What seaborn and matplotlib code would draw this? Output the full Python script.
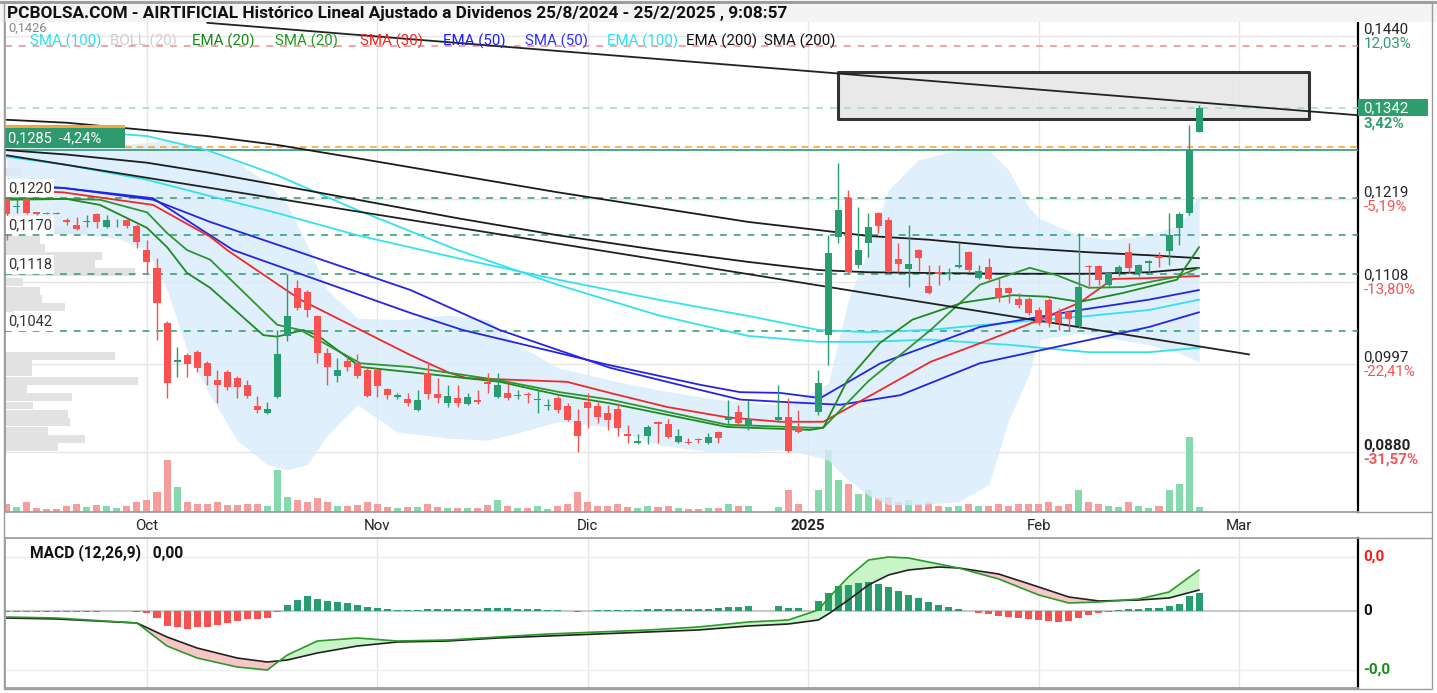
import numpy as np
import pandas as pd
import matplotlib
matplotlib.use("Agg")
import matplotlib.pyplot as plt
import matplotlib.transforms as mtrans
from matplotlib.patches import Rectangle
from matplotlib.lines import Line2D
import seaborn as sns

sns.set_theme(style="white")
plt.rcParams["font.family"] = ["Roboto", "DejaVu Sans"]

nan = float("nan")

# ------------------------------------------------------------------ data
sessions = pd.bdate_range("2024-09-11", "2025-02-25")   # 120 weekday slots

opens = [0.1219, 0.1208, 0.1219, 0.1201, 0.1200, 0.1200, 0.1191, 0.1184, 0.1188, 0.1199,
         0.1181, 0.1186, 0.1191, 0.1183, 0.1150, 0.1126, 0.1052, 0.0999, 0.1008, 0.1012,
         0.0997, 0.0975, 0.0985, 0.0977, 0.0968, 0.0939, 0.0930, 0.0952, 0.1034, 0.1099,
         0.1093, 0.1061, 0.1011, 0.0980, 0.1000, 0.0997, 0.0988, 0.0988, 0.0962, 0.0952,
         0.0949, 0.0934, 0.0984, 0.0956, 0.0943, 0.0950, 0.0942, 0.0948, 0.0972, 0.0952,
         0.0957, 0.0953, 0.0956, 0.0948, 0.0939, 0.0950, 0.0939, 0.0919, 0.0945, 0.0939,
         0.0930, 0.0935, 0.0901, 0.0889, 0.0899, 0.0918, 0.0915, 0.0891, 0.0891, 0.0895,
         0.0889, 0.0904, 0.0920, 0.0931, 0.0914, nan, nan, 0.0920, 0.0925, 0.0911,
         nan, 0.0931, 0.1035, 0.1168, 0.1220, 0.1130, 0.1160, 0.1200, 0.1191, 0.1138,
         0.1124, 0.1150, 0.1101, 0.1120, 0.1118, 0.1127, 0.1147, 0.1112, 0.1127, 0.1099,
         0.1099, 0.1084, 0.1084, 0.1069, 0.1083, 0.1065, 0.1066, 0.1047, 0.1128, 0.1128,
         0.1103, 0.1120, 0.1147, 0.1119, 0.1133, 0.1142, 0.1149, 0.1180, 0.1200, 0.1310]
highs = [0.1222, 0.1219, 0.1220, 0.1201, 0.1201, 0.1201, 0.1193, 0.1195, 0.1197, 0.1200,
         0.1197, 0.1192, 0.1192, 0.1185, 0.1164, 0.1139, 0.1054, 0.1019, 0.1011, 0.1015,
         0.1000, 0.0988, 0.0988, 0.0980, 0.0975, 0.0953, 0.0945, 0.1042, 0.1118, 0.1110,
         0.1096, 0.1062, 0.1018, 0.1004, 0.1007, 0.1010, 0.0991, 0.0989, 0.0964, 0.0957,
         0.0957, 0.0961, 0.0999, 0.0977, 0.0968, 0.0968, 0.0957, 0.0961, 0.0984, 0.0984,
         0.0970, 0.0961, 0.0958, 0.0961, 0.0949, 0.0953, 0.0943, 0.0935, 0.0957, 0.0945,
         0.0941, 0.0943, 0.0914, 0.0901, 0.0914, 0.0919, 0.0922, 0.0908, 0.0896, 0.0896,
         0.0903, 0.0905, 0.0948, 0.0941, 0.0948, nan, nan, 0.0968, 0.0950, 0.0934,
         nan, 0.0988, 0.1170, 0.1268, 0.1231, 0.1208, 0.1200, 0.1201, 0.1195, 0.1160,
         0.1184, 0.1152, 0.1130, 0.1130, 0.1126, 0.1160, 0.1149, 0.1130, 0.1139, 0.1112,
         0.1100, 0.1092, 0.1087, 0.1073, 0.1085, 0.1072, 0.1069, 0.1173, 0.1130, 0.1130,
         0.1120, 0.1130, 0.1160, 0.1131, 0.1137, 0.1147, 0.1200, 0.1201, 0.1319, 0.1346]
lows = [0.1164, 0.1200, 0.1199, 0.1197, 0.1199, 0.1199, 0.1184, 0.1177, 0.1181, 0.1180,
        0.1180, 0.1181, 0.1180, 0.1153, 0.1119, 0.1029, 0.0950, 0.0979, 0.0979, 0.0985,
        0.0968, 0.0943, 0.0961, 0.0950, 0.0950, 0.0930, 0.0929, 0.0950, 0.1027, 0.1069,
        0.1060, 0.0997, 0.0968, 0.0972, 0.0987, 0.0977, 0.0952, 0.0952, 0.0949, 0.0949,
        0.0939, 0.0933, 0.0949, 0.0943, 0.0938, 0.0938, 0.0941, 0.0942, 0.0957, 0.0950,
        0.0948, 0.0949, 0.0943, 0.0930, 0.0934, 0.0930, 0.0919, 0.0877, 0.0910, 0.0916,
        0.0907, 0.0899, 0.0889, 0.0888, 0.0888, 0.0889, 0.0896, 0.0889, 0.0888, 0.0889,
        0.0888, 0.0889, 0.0914, 0.0914, 0.0907, nan, nan, 0.0918, 0.0877, 0.0903,
        nan, 0.0927, 0.0995, 0.1160, 0.1119, 0.1126, 0.1141, 0.1173, 0.1120, 0.1120,
        0.1100, 0.1122, 0.1091, 0.1103, 0.1110, 0.1126, 0.1120, 0.1111, 0.1110, 0.1080,
        0.1079, 0.1072, 0.1062, 0.1049, 0.1046, 0.1042, 0.1042, 0.1045, 0.1099, 0.1103,
        0.1101, 0.1115, 0.1119, 0.1115, 0.1119, 0.1127, 0.1130, 0.1157, 0.1197, 0.1310]
closes = [0.1199, 0.1210, 0.1200, 0.1199, 0.1199, 0.1199, 0.1188, 0.1179, 0.1189, 0.1188,
          0.1191, 0.1187, 0.1183, 0.1161, 0.1134, 0.1079, 0.0970, 0.1002, 0.0996, 0.0991,
          0.0980, 0.0968, 0.0965, 0.0965, 0.0953, 0.0934, 0.0935, 0.1010, 0.1061, 0.1072,
          0.1069, 0.1011, 0.0992, 0.0988, 0.0992, 0.0980, 0.0953, 0.0966, 0.0954, 0.0954,
          0.0943, 0.0948, 0.0956, 0.0950, 0.0953, 0.0943, 0.0952, 0.0945, 0.0969, 0.0968,
          0.0950, 0.0954, 0.0954, 0.0949, 0.0941, 0.0934, 0.0920, 0.0899, 0.0937, 0.0925,
          0.0920, 0.0910, 0.0899, 0.0892, 0.0911, 0.0915, 0.0897, 0.0899, 0.0889, 0.0893,
          0.0897, 0.0896, 0.0923, 0.0916, 0.0922, nan, nan, 0.0925, 0.0878, 0.0904,
          nan, 0.0970, 0.1146, 0.1204, 0.1120, 0.1150, 0.1181, 0.1183, 0.1122, 0.1131,
          0.1131, 0.1139, 0.1092, 0.1118, 0.1120, 0.1130, 0.1123, 0.1122, 0.1111, 0.1085,
          0.1092, 0.1076, 0.1065, 0.1052, 0.1052, 0.1052, 0.1057, 0.1100, 0.1127, 0.1110,
          0.1119, 0.1127, 0.1126, 0.1130, 0.1135, 0.1139, 0.1170, 0.1199, 0.1285, 0.1342]
volumes = [800, 500, 1000, 400, 300, 300, 600, 800, 500, 700,
           600, 400, 600, 1000, 1200, 2000, 5200, 2500, 1000, 800,
           800, 1000, 700, 700, 800, 800, 600, 4200, 1500, 1200,
           1000, 1400, 1000, 600, 600, 700, 1000, 800, 500, 400,
           500, 500, 800, 500, 400, 400, 400, 400, 700, 1200,
           600, 400, 400, 600, 300, 600, 800, 2000, 1000, 600,
           600, 800, 500, 400, 600, 500, 600, 400, 300, 300,
           400, 400, 800, 600, 600, 0, 0, 500, 2200, 800,
           0, 2200, 6200, 3200, 2800, 1800, 2200, 1400, 1500, 1000,
           1200, 800, 1000, 600, 500, 600, 800, 600, 600, 800,
           600, 800, 800, 800, 1000, 600, 800, 2200, 1000, 800,
           600, 500, 1000, 600, 400, 600, 2200, 2800, 7500, 500]

# moving averages: (session index, price) pairs per line
ema20_idx = [0, 6, 9.3, 14, 16, 18, 20.3, 25.6, 27, 29.6, 31, 35.3, 40.3, 49.2, 55.2, 60.2,
             71.9, 80.2, 81.5, 83.9, 87.1, 90.4, 95.4, 100.4, 103.8, 107.1, 111.4, 116.8, 119]
ema20 = [0.1218, 0.1219, 0.1211, 0.1180, 0.1154, 0.1119, 0.1099, 0.1035, 0.1033, 0.1042,
         0.1035, 0.0992, 0.0985, 0.0972, 0.0954, 0.0943, 0.0911, 0.0907, 0.0910, 0.0974,
         0.1024, 0.1056, 0.1079, 0.1089, 0.1087, 0.1080, 0.1092, 0.1110, 0.1154]
sma20_idx = [0, 6, 9.3, 14, 16, 18, 20.3, 27, 29.3, 35.3, 40.3, 49.2, 55.2, 60.2, 71.9, 80.2,
             81.5, 86, 92.2, 97.1, 102.1, 104.8, 108, 111.4, 116.8, 119]
sma20 = [0.1220, 0.1219, 0.1218, 0.1201, 0.1173, 0.1150, 0.1137, 0.1049, 0.1042, 0.0997,
         0.0992, 0.0974, 0.0958, 0.0948, 0.0914, 0.0910, 0.0910, 0.0973, 0.1042, 0.1103,
         0.1126, 0.1116, 0.1099, 0.1100, 0.1114, 0.1126]
sma30_idx = [0, 5.6, 14.6, 20.3, 22, 29.3, 40.3, 44.2, 45.9, 55.9, 60.2, 65.9, 71.9, 77.2,
             81.5, 87.2, 92.2, 98.1, 102.4, 107.1, 110.4, 113.8, 119]
sma30 = [0.1231, 0.1228, 0.1211, 0.1168, 0.1150, 0.1083, 0.1008, 0.0984, 0.0977, 0.0972,
         0.0957, 0.0938, 0.0924, 0.0918, 0.0918, 0.0961, 0.0999, 0.1029, 0.1052, 0.1079,
         0.1111, 0.1112, 0.1115]
ema50_idx = [0, 5.6, 14.6, 20.3, 22.6, 40.3, 45.5, 60, 69.2, 73.2, 77.2, 81.2, 87.2, 97.1,
             107.1, 114, 119]
ema50 = [0.1237, 0.1234, 0.1220, 0.1170, 0.1150, 0.1065, 0.1042, 0.0995, 0.0968, 0.0958,
         0.0957, 0.0950, 0.0997, 0.1046, 0.1069, 0.1083, 0.1096]
sma50_idx = [0, 5.6, 14.6, 20.3, 28.6, 40.3, 49.2, 60.2, 69.2, 73.2, 77.2, 83.2, 89.2, 97.1,
             107.1, 114, 119]
sma50 = [0.1237, 0.1234, 0.1218, 0.1188, 0.1150, 0.1096, 0.1042, 0.0991, 0.0961, 0.0948,
         0.0945, 0.0941, 0.0954, 0.0997, 0.1026, 0.1046, 0.1066]
long_idx = [0, 6, 14, 20, 27, 35, 45, 55, 65, 74, 81, 86, 92, 100, 108, 114, 119]
sma100 = [0.1315, 0.1312, 0.1304, 0.1285, 0.1251, 0.1204, 0.1150, 0.1103, 0.1062, 0.1034,
          0.1026, 0.1026, 0.1029, 0.1022, 0.1012, 0.1012, 0.1018]
ema100 = [0.1276, 0.1265, 0.1245, 0.1224, 0.1200, 0.1170, 0.1139, 0.1110, 0.1083, 0.1061,
          0.1042, 0.1039, 0.1042, 0.1052, 0.1061, 0.1069, 0.1083]
sma200 = [0.1326, 0.1322, 0.1312, 0.1304, 0.1292, 0.1274, 0.1251, 0.1228, 0.1207, 0.1188,
          0.1177, 0.1169, 0.1164, 0.1154, 0.1147, 0.1143, 0.1139]
ema200 = [0.1285, 0.1279, 0.1268, 0.1255, 0.1238, 0.1218, 0.1193, 0.1170, 0.1150, 0.1134,
          0.1123, 0.1120, 0.1119, 0.1118, 0.1118, 0.1120, 0.1126]

# Bollinger (20)
bb_idx = [0, 6, 11, 14, 16, 18, 20, 23, 26, 28, 30, 32, 35, 39, 44, 48, 51, 55, 60,
          65, 71, 77, 79, 82, 84, 86, 88, 91, 95, 98, 100, 102, 103, 107, 110, 114, 117, 119]
bb_upper = [0.1299, 0.1292, 0.1292, 0.1295, 0.1299, 0.1292, 0.1285, 0.1269, 0.1241, 0.1211,
            0.1157, 0.1096, 0.1058, 0.1056, 0.1062, 0.1056, 0.1022, 0.0991, 0.0975, 0.0961,
            0.0948, 0.0941, 0.0948, 0.0970, 0.1083, 0.1150, 0.1231, 0.1272, 0.1285, 0.1285,
            0.1258, 0.1208, 0.1193, 0.1170, 0.1164, 0.1170, 0.1184, 0.1224]
bb_lower = [0.1177, 0.1174, 0.1166, 0.1150, 0.1096, 0.1015, 0.0961, 0.0893, 0.0860, 0.0853,
            0.0860, 0.0900, 0.0941, 0.0904, 0.0896, 0.0893, 0.0903, 0.0918, 0.0911, 0.0887,
            0.0876, 0.0880, 0.0877, 0.0866, 0.0839, 0.0819, 0.0806, 0.0806, 0.0810, 0.0833,
            0.0920, 0.0981, 0.1029, 0.1038, 0.1031, 0.1022, 0.1011, 0.0999]

# drawn trend lines and box
trend1_x, trend1_y = [20, 135], [0.1457, 0.1332]
trend2_x, trend2_y = [0, 124], [0.1278, 0.1009]
box_x, box_y = [83, 130], [0.1327, 0.1391]

# horizontal levels
level_prices = [0.1220, 0.1170, 0.1117, 0.1040]
level_labels = ["0,1220", "0,1170", "0,1118", "0,1042"]
resist_price, resist_label = 0.1426, "0,1426"
last_price, last_label, last_pct = 0.1342, "0,1342", "3,42%"
prev_price, prev_label = 0.1285, "0,1285  -4,24%"
orange_price = 0.1289

grid_prices = [0.1439, 0.1219, 0.1107, 0.0996, 0.0877]
grid_labels = ["0,1440", "0,1219", "0,1108", "0,0997", "0,0880"]
grid_pcts = ["12,03%", "-5,19%", "-13,80%", "-22,41%", "-31,57%"]

# volume profile
vp_price = [0.1255, 0.1177, 0.1164, 0.1153, 0.1142, 0.1131, 0.1120, 0.1107, 0.1095, 0.1084,
            0.1073, 0.1062, 0.1007, 0.0996, 0.0985, 0.0973, 0.0962, 0.0951, 0.0940, 0.0929,
            0.0918, 0.0906, 0.0895, 0.0884]
vp_volume = [170, 820, 350, 400, 970, 900, 1300, 180, 350, 370, 600, 80, 1100, 270, 270,
             1330, 220, 670, 280, 630, 650, 430, 800, 530]

# MACD (12,26,9), values in 1e-5
macd_idx = [0, 5, 13, 16, 19, 23, 26, 28, 31, 35, 39, 44, 49, 54, 59, 64, 69, 74, 78,
            81, 82, 84, 86, 88, 90, 93, 95, 99, 103, 106, 109, 113, 116, 119]
macd_e5 = [-42, -49, -84, -245, -329, -392, -413, -308, -210, -189, -210, -203, -182, -161,
           -147, -133, -112, -77, -63, 7, 91, 238, 357, 378, 371, 329, 301, 224, 112, 56,
           63, 84, 133, 287]
signal_e5 = [-49, -56, -84, -182, -259, -329, -357, -343, -294, -245, -217, -210, -189, -175,
             -161, -147, -133, -105, -91, -63, -21, 77, 182, 252, 287, 308, 301, 259, 168, 98,
             70, 77, 91, 147]
hist_e5 = [-7, -7, -7, -7, -7, -7, -7, -7, -7, -7,
           0, 0, 0, -7, -14, -49, -105, -112, -126, -112,
           -112, -98, -84, -70, -56, -56, -49, -7, 42, 77,
           105, 84, 70, 63, 56, 42, 28, 21, 14, 7,
           7, 7, 14, 14, 14, 14, 14, 14, 21, 21,
           21, 14, 14, 14, 7, 7, 0, -7, 0, 7,
           7, 7, 7, 7, 14, 14, 14, 14, 14, 14,
           14, 21, 28, 28, 35, nan, nan, 35, 21, 21,
           nan, 70, 126, 175, 182, 196, 203, 189, 168, 140,
           112, 91, 63, 42, 28, 14, 0, -14, -21, -35,
           -42, -49, -56, -63, -70, -77, -70, -49, -28, -14,
           -7, 7, 14, 14, 21, 21, 35, 49, 105, 126]

month_labels = ["Oct", "Nov", "Dic", "2025", "Feb", "Mar"]

# ------------------------------------------------------------------ layout
W, H = 1437, 693
fig = plt.figure(figsize=(W / 100, H / 100), dpi=100)
fig.patch.set_facecolor("white")


def fx(px):
    return px / W


def fy(py):
    return 1 - py / H


L, R = 5, 1358
ax = fig.add_axes([fx(L), fy(512), fx(R) - fx(L), fy(22) - fy(512)])
axm = fig.add_axes([fx(L), fy(688), fx(R) - fx(L), fy(538) - fy(688)], sharex=ax)
ax_vol = ax.twinx()
ax_vp = ax.twiny()
ax.set_zorder(3)
ax.patch.set_visible(False)
ax_vol.set_zorder(2)
ax_vol.patch.set_visible(False)
ax_vp.set_zorder(1)

x = np.arange(len(sessions))
o, h, l, c = map(np.array, (opens, highs, lows, closes))
valid = ~np.isnan(o)
up = valid & (c >= o)
dn = valid & (c < o)
UP, DN = "#2a9d70", "#fa5050"

all_days = pd.bdate_range("2024-09-11", "2025-03-31")
month_pos = []
for per in ["2024-10", "2024-11", "2024-12", "2025-01", "2025-02", "2025-03"]:
    month_pos.append(int(np.argmax(all_days.strftime("%Y-%m") == per)))

XMIN, XMAX = -0.17, 134.86
YMIN, YMAX = 0.07961, 0.14581

# background grid
for gp in grid_prices:
    ax_vp.axhline(gp, color="#e6e6e6", lw=1, zorder=0)
for mp in month_pos:
    ax_vol.axvline(mp, color="#e6e6e6", lw=1, zorder=0)
    axm.axvline(mp, color="#e6e6e6", lw=1, zorder=0)

# volume profile
ax_vp.barh(vp_price, vp_volume, height=0.00105, left=0, color="#e2e2e2", linewidth=0, zorder=1)
ax_vp.set_xlim(0, 13530)

# volume
vol = np.array(volumes, dtype=float)
vcol = np.where(c >= o, "#86d9ad", "#f59c9c")
ax_vol.bar(x[valid], vol[valid], width=0.7, color=vcol[valid], linewidth=0, zorder=2)
ax_vol.set_ylim(0, 49000)

# Bollinger
ax.fill_between(bb_idx, bb_lower, bb_upper, color="#d8ebfa", alpha=0.8, linewidth=0, zorder=1)

# horizontal levels
trans_ad = mtrans.blended_transform_factory(ax.transAxes, ax.transData)
for lv, lab in zip(level_prices, level_labels):
    ax.axhline(lv, color="#2e9a6e", lw=1.1, ls=(0, (4.5, 4.5)), zorder=3.5)
    ax.annotate(lab, xy=(0, lv), xycoords=trans_ad, xytext=(2.3, 7.2), textcoords="offset points",
                ha="left", va="center", fontsize=10.5, color="#333333",
                bbox=dict(boxstyle="square,pad=0.15", fc="white", ec="none"),
                zorder=8, annotation_clip=False)
ax.axhline(resist_price, color="#f08a8a", lw=1.1, ls=(0, (4.5, 4.5)), zorder=3.5)
ax.annotate(resist_label, xy=(0, resist_price), xycoords=trans_ad, xytext=(2.3, 12.5),
            textcoords="offset points", ha="left", va="center", fontsize=9.2, color="#888888",
            zorder=8, annotation_clip=False)
ax.axhline(last_price, color="#a6d8c1", lw=1.1, ls=(0, (4.5, 4.5)), zorder=3.5)
ax.axhline(orange_price, xmin=120 / 1353, color="#f5a53c", lw=1.2, ls=(0, (4, 3)), zorder=3.5)
ax.axhline(prev_price, color="#2e9a6e", lw=1.2, zorder=3.5)

# gray box annotation
ax.add_patch(Rectangle((box_x[0], box_y[0]), box_x[1] - box_x[0], box_y[1] - box_y[0],
                       fc="#e6e6e6", ec="#111111", lw=2.2, alpha=0.85, zorder=2.5,
                       joinstyle="round"))

# moving averages
ma_specs = [(long_idx, sma100, "#33e2ee"), (long_idx, ema100, "#33e2ee"),
            (long_idx, sma200, "#1c1c1c"), (long_idx, ema200, "#1c1c1c"),
            (sma50_idx, sma50, "#2424e6"), (ema50_idx, ema50, "#2424e6"),
            (sma30_idx, sma30, "#ee2a2a"), (sma20_idx, sma20, "#2e962e"),
            (ema20_idx, ema20, "#1f8a1f")]
for xi, vals, col in ma_specs:
    sns.lineplot(x=xi, y=vals, ax=ax, color=col, linewidth=1.3, estimator=None,
                 sort=False, legend=False, zorder=4)

# trend lines
for tx, ty in ((trend1_x, trend1_y), (trend2_x, trend2_y)):
    sns.lineplot(x=tx, y=ty, ax=ax, color="#222222", linewidth=1.3, estimator=None,
                 sort=False, legend=False, zorder=4.5)

# candles
for mask, col in ((up, UP), (dn, DN)):
    ax.vlines(x[mask], l[mask], h[mask], color=col, linewidth=1.0, zorder=5)
    lo_body = np.minimum(o[mask], c[mask])
    hgt = np.maximum(np.abs(c[mask] - o[mask]), 0.00012)
    ax.bar(x[mask], hgt, bottom=lo_body, width=0.7, color=col, linewidth=0, zorder=6)

# previous close box on the left
ax.add_patch(Rectangle((0, prev_price + 0.00029), 120 / 1353, 0.0027, transform=trans_ad,
                       fc="#2e9a6e", ec="none", zorder=9, clip_on=False))
ax.add_patch(Rectangle((0, prev_price + 0.00299), 120 / 1353, 0.00035, transform=trans_ad,
                       fc="#f5a53c", ec="none", zorder=9, clip_on=False))
ax.text(3 / 1353, prev_price + 0.00162, prev_label, transform=trans_ad, ha="left", va="center",
        fontsize=10.5, color="white", zorder=10)

# right price labels
for gp, lab, pct in zip(grid_prices, grid_labels, grid_pcts):
    bold = "bold" if lab == "0,0880" else "normal"
    pc = "#2e9e6e" if not pct.startswith("-") else "#f25555"
    ax.text(1.004, gp, lab, transform=trans_ad, ha="left", va="bottom", fontsize=10.8,
            color="#222222", fontweight=bold, clip_on=False, zorder=10)
    ax.text(1.004, gp, pct, transform=trans_ad, ha="left", va="top", fontsize=10.8,
            color=pc, fontweight=bold, clip_on=False, zorder=10)
ax.add_patch(Rectangle((1.0, last_price - 0.00115), 0.052, 0.0023, transform=trans_ad,
                       fc="#2e9e6e", ec="none", clip_on=False, zorder=9))
ax.text(1.004, last_price, last_label, transform=trans_ad, ha="left", va="center",
        fontsize=10.8, color="white", clip_on=False, zorder=10)
ax.text(1.004, last_price - 0.00118, last_pct, transform=trans_ad, ha="left", va="top",
        fontsize=10.8, color="#2e9e6e", fontweight="bold", clip_on=False, zorder=10)

# axes cosmetics
ax.set_xlim(XMIN, XMAX)
ax.set_ylim(YMIN, YMAX)
ax.set_autoscale_on(False)
ax.set_xticks(month_pos)
ax.set_xticklabels(month_labels, fontsize=10.8, color="#222222")
ax.get_xticklabels()[3].set_fontweight("bold")
ax.tick_params(axis="x", length=0, pad=5)
ax.set_yticks([])
ax.set_xlabel("")
ax.set_ylabel("")
ax_vp.set_xticks([])
ax_vol.set_yticks([])
for a in (ax_vol, ax_vp):
    for s in a.spines.values():
        s.set_visible(False)
ax_vp.tick_params(top=False, labeltop=False)
ax_vol.tick_params(right=False, labelright=False)
ax_vol.set_ylabel("")
ax.spines["top"].set_visible(False)
ax.spines["left"].set_color("#9a9a9a")
ax.spines["bottom"].set_color("#9a9a9a")
ax.spines["right"].set_color("black")
ax.spines["right"].set_linewidth(1.6)

# MACD panel
mx = np.array(macd_idx)
macd_v = np.array(macd_e5) * 1e-5
sig_v = np.array(signal_e5) * 1e-5
hist_v = np.array(hist_e5, dtype=float) * 1e-5
axm.axhline(0, color="#bdbdbd", lw=1.2, zorder=0.5)
axm.axhline(0.0038, color="#ececec", lw=1, zorder=0.5)
axm.axhline(-0.0041, color="#ececec", lw=1, zorder=0.5)
pos = ~np.isnan(hist_v) & (hist_v >= 0)
neg = ~np.isnan(hist_v) & (hist_v < 0)
axm.bar(x[pos], hist_v[pos], width=0.7, color="#2a9d70", linewidth=0, zorder=2)
axm.bar(x[neg], hist_v[neg], width=0.7, color="#fa5050", linewidth=0, zorder=2)
axm.fill_between(mx, macd_v, sig_v, where=macd_v >= sig_v, interpolate=True,
                 color="#c8f4c8", linewidth=0, zorder=1.5)
axm.fill_between(mx, macd_v, sig_v, where=macd_v < sig_v, interpolate=True,
                 color="#f8c6c6", linewidth=0, zorder=1.5)
sns.lineplot(x=mx, y=sig_v, ax=axm, color="#222222", linewidth=1.2, estimator=None,
             sort=False, legend=False, zorder=3)
sns.lineplot(x=mx, y=macd_v, ax=axm, color="#2a9a2a", linewidth=1.2, estimator=None,
             sort=False, legend=False, zorder=3)
axm.set_ylim(-0.00539, 0.00511)
axm.set_xlim(XMIN, XMAX)
axm.set_yticks([])
axm.set_xlabel("")
axm.set_ylabel("")
axm.tick_params(axis="x", length=0, labelbottom=False)
for s in ("top", "left", "bottom"):
    axm.spines[s].set_color("#9a9a9a")
axm.spines["right"].set_color("black")
axm.spines["right"].set_linewidth(1.6)
axm.text(25 / 1353, 0.9, "MACD (12,26,9)   0,00", transform=axm.transAxes, ha="left",
         va="center", fontsize=11.2, fontweight="bold", color="#111111")
trans_md = mtrans.blended_transform_factory(axm.transAxes, axm.transData)
for val, txt, col in ((0.0038, "0,0", "#ff1a1a"), (0.0, "0", "#111111"), (-0.0041, "-0,0", "#1a8a1a")):
    axm.text(1.004, val, txt, transform=trans_md, ha="left", va="center", fontsize=11,
             fontweight="bold", color=col, clip_on=False)

# legend row
legend_items = [("SMA (100)", "#2fe0ee", 30), ("BOLL (20)", "#cfcfcf", 110),
                ("EMA (20)", "#138a13", 192), ("SMA (20)", "#1e9a1e", 275),
                ("SMA (30)", "#ff2020", 360), ("EMA (50)", "#1a1aff", 443),
                ("SMA (50)", "#2f2fff", 525), ("EMA (100)", "#2fe0ee", 607),
                ("EMA (200)", "#111111", 686), ("SMA (200)", "#111111", 764)]
for txt, col, px in legend_items:
    fig.text(fx(px), fy(41), txt, ha="left", va="center", fontsize=10.8, color=col, zorder=15)

# title bar and frame
fig.add_artist(Rectangle((0, fy(22)), 1, 22 / H, transform=fig.transFigure, fc="#f4f4f4",
                         ec="none", zorder=20))
fig.add_artist(Line2D([fx(0), fx(1437)], [fy(1.5), fy(1.5)], transform=fig.transFigure,
                      color="#9a9a9a", lw=2, zorder=21))
fig.text(fx(7), fy(13.5), "PCBOLSA.COM - AIRTIFICIAL Histórico Lineal Ajustado a Dividenos "
         "25/8/2024 - 25/2/2025 , 9:08:57", ha="left", va="center", fontsize=12.4,
         fontweight="bold", color="#111111", zorder=22)
fig.add_artist(Rectangle((fx(4), fy(689)), fx(1432) - fx(4), fy(2) - fy(689),
                         transform=fig.transFigure, fill=False, ec="#9a9a9a", lw=1, zorder=23))
for yy in (512, 538):
    fig.add_artist(Line2D([fx(1358), fx(1432)], [fy(yy), fy(yy)], transform=fig.transFigure,
                          color="#9a9a9a", lw=1, zorder=21))

fig.savefig("out.png", dpi=100, facecolor="white")
